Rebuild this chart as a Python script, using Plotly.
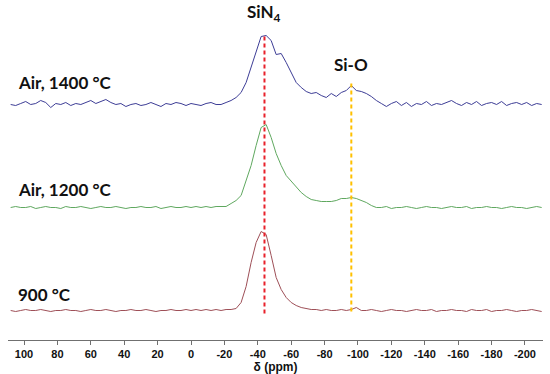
import plotly.graph_objects as go

# chemical shift grid (ppm), 3 ppm steps from 108 to -210
ppm = list(range(108, -211, -3))

# intensities above each spectrum's own baseline (arbitrary units)
air_1400 = [0, -1, 1, 3, 0, 1, 4, 2, -3, 1, 0, 2, -1, 1, 0, 2, 4, 1, 3, 5,
            2, 0, 1, -2, 0, 1, -1, 0, 2, 0, -2, 1, 0, 2, 1, -1, 1, 0, -1, 1,
            2, 0, 0, 2, 4, 7, 12, 22, 37, 53, 68, 69, 64, 50, 51, 42, 32, 22, 17, 13,
            11, 12, 9, 7, 11, 8, 12, 14, 19, 14, 13, 11, 8, 4, 1, -2, 1, 3, -1, 2,
            -2, 1, 0, 3, -1, 1, 0, 2, 4, 1, -1, 2, 0, 3, -1, 1, 2, 0, 3, -1,
            1, 2, 0, 2, -1, 1, 0]
air_1200 = [0, 1, 0, 0, 1, -1, 0, 1, 0, 0, -1, 1, 0, 0, 1, 0, -1, 0, 1, 0,
            0, 1, 0, -1, 0, 0, 1, 0, 0, 1, -1, 0, 1, 0, 0, 1, 0, 1, 0, 1,
            0, 1, 1, 1, 4, 7, 12, 26, 42, 62, 80, 83, 70, 54, 42, 32, 26, 21, 15, 11,
            8, 7, 6, 6, 6, 7, 9, 9, 10, 9, 7, 5, 2, 0, 0, 1, -1, 0, 0, 1,
            0, -1, 0, 1, 0, 0, -1, 0, 1, 0, 0, 1, -1, 0, 0, 1, 0, 0, -1, 0,
            1, 0, 0, -1, 0, 1, 0]
h_900 = [0, -1, 0, 1, 0, 0, 1, 0, -1, 0, 0, 1, 0, 0, -1, 0, 1, 0, 0, 1,
         0, -1, 0, 0, 1, 0, 0, 1, 0, -1, 0, 0, 1, 0, 0, 1, 0, 1, 0, 1,
         0, 1, 0, 1, 1, 2, 8, 24, 48, 68, 79, 76, 55, 33, 21, 13, 8, 5, 3, 2,
         1, 1, 0, 1, 0, 0, 1, 0, 1, 3, 0, 0, 1, 0, -1, 0, 1, 0, 0, -1,
         0, 1, 0, 0, 1, -1, 0, 0, 1, 0, 0, -1, 1, 0, 0, 1, -1, 0, 0, 1,
         0, -1, 0, 0, 1, 0, -1]

series_names = ["Air, 1400 °C", "Air, 1200 °C", "900 °C"]
series_data = [air_1400, air_1200, h_900]
offsets = [235.5, 132.5, 29.5]
colors = ["#3d3d96", "#5fa85f", "#9e4f57"]

tick_vals = [100, 80, 60, 40, 20, 0, -20, -40, -60, -80, -100, -120, -140, -160, -180, -200]
tick_text = ["100", "80", "60", "40", "20", "0", "-20", "-40", "-60", "-80", "-100",
             "-120", "-140", "-160", "-180", "-200"]

sin4_ppm = -44
sio_ppm = -96

fig = go.Figure()
for name, vals, off, col in zip(series_names, series_data, offsets, colors):
    fig.add_trace(go.Scatter(x=ppm, y=[v + off for v in vals], mode="lines",
                             line=dict(color=col, width=1), name=name,
                             showlegend=False, hoverinfo="skip"))

fig.add_trace(go.Scatter(x=[sin4_ppm, sin4_ppm], y=[26.5, 306.5], mode="lines",
                         line=dict(color="#e8212b", width=2, dash="4px,3px"),
                         showlegend=False, hoverinfo="skip"))
fig.add_trace(go.Scatter(x=[sio_ppm, sio_ppm], y=[28.5, 256.5], mode="lines",
                         line=dict(color="#ffc000", width=2, dash="4px,3px"),
                         showlegend=False, hoverinfo="skip"))

lab_font = dict(family="Lato", size=17, color="#111111")
label_y = [257.5, 150.5, 45.5]
for name, ly in zip(series_names, label_y):
    fig.add_annotation(x=104.8, y=ly, text="<b>" + name + "</b>", showarrow=False,
                       xanchor="left", yanchor="middle", font=lab_font)

fig.add_annotation(x=sin4_ppm, y=327, text="<b>SiN<sub>4</sub></b>", showarrow=False,
                   xanchor="center", yanchor="middle", font=lab_font)
fig.add_annotation(x=sio_ppm, y=276, text="<b>Si-O</b>", showarrow=False,
                   xanchor="center", yanchor="middle", font=lab_font)

fig.update_layout(
    width=550, height=374,
    margin=dict(l=8, r=7, t=0, b=34),
    paper_bgcolor="white", plot_bgcolor="white",
    xaxis=dict(range=[109.6, -210.8], tickvals=tick_vals,
               ticktext=["<b>" + t + "</b>" for t in tick_text],
               showgrid=False, zeroline=False, showline=True, linecolor="#707070",
               linewidth=1, ticks="outside", ticklen=4, tickcolor="#707070",
               tickfont=dict(family="Arial", size=11, color="#111111"),
               title=dict(text="<b>δ (ppm)</b>", standoff=1,
                          font=dict(family="Arial", size=12, color="#111111"))),
    yaxis=dict(range=[0, 340], visible=False, showgrid=False, zeroline=False),
)

fig.write_html("out.html", config={"displayModeBar": False},
               post_script="document.body.style.margin='0';document.body.style.overflow='hidden';")
